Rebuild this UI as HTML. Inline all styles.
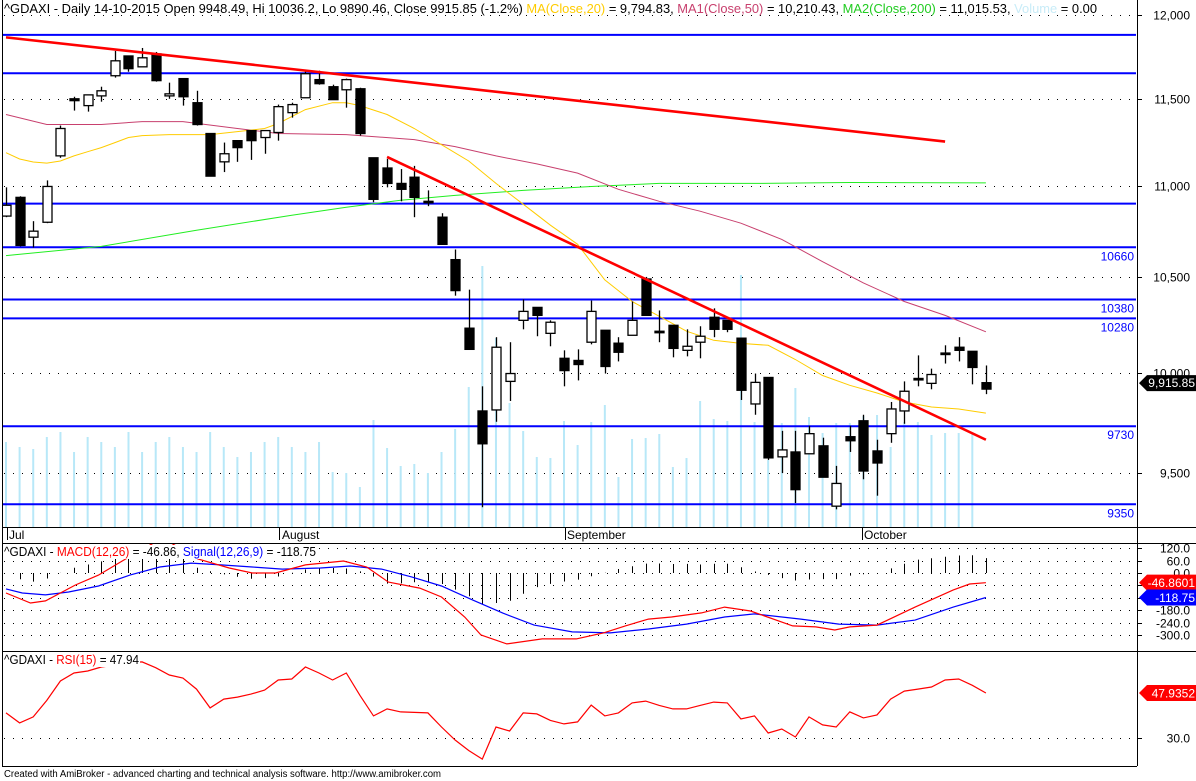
<!DOCTYPE html>
<html><head><meta charset="utf-8"><style>
html,body{margin:0;padding:0;background:#fff;}
svg{display:block;font-family:"Liberation Sans",Arial,sans-serif;}
</style></head><body>
<svg id="chart" width="1196" height="781" viewBox="0 0 1196 781" xmlns="http://www.w3.org/2000/svg">
<defs>
<clipPath id="cpPrice"><rect x="3" y="0" width="1133" height="527"/></clipPath>
<clipPath id="cpMacd"><rect x="3" y="543" width="1133" height="108"/></clipPath>
<clipPath id="cpRsi"><rect x="3" y="651" width="1133" height="115"/></clipPath>
</defs>
<rect x="0" y="0" width="1196" height="781" fill="#fff"/>
<g id="gPriceGrid"></g>
<g id="gVol" clip-path="url(#cpPrice)"></g>
<g id="gLevels" clip-path="url(#cpPrice)"></g>
<g id="gMA" clip-path="url(#cpPrice)"></g>
<g id="gCandles" clip-path="url(#cpPrice)"></g>
<g id="gTrend" clip-path="url(#cpPrice)"></g>
<g id="gMacd" clip-path="url(#cpMacd)"></g>
<g id="gRsi" clip-path="url(#cpRsi)"></g>
<g id="gAxes"></g>

<!-- frame lines -->
<line x1="2.5" y1="0" x2="2.5" y2="766" stroke="#000"/>
<line x1="1137.5" y1="0" x2="1137.5" y2="766" stroke="#000"/>
<line x1="2" y1="527.5" x2="1196" y2="527.5" stroke="#000"/>
<line x1="2" y1="543.5" x2="1196" y2="543.5" stroke="#000"/>
<line x1="2" y1="651.5" x2="1196" y2="651.5" stroke="#000"/>
<line x1="2" y1="766.5" x2="1137" y2="766.5" stroke="#000"/>

<!-- date axis -->
<g font-size="12" fill="#000">
<line x1="7.5" y1="528" x2="7.5" y2="540" stroke="#000"/><text x="9" y="539">Jul</text>
<line x1="279.5" y1="528" x2="279.5" y2="540" stroke="#000"/><text x="282" y="539">August</text>
<line x1="565.5" y1="528" x2="565.5" y2="540" stroke="#000"/><text x="567" y="539">September</text>
<line x1="862.5" y1="528" x2="862.5" y2="540" stroke="#000"/><text x="864" y="539">October</text>
</g>

<!-- headers -->
<rect x="3" y="1" width="1096" height="14" fill="#fff"/>
<text x="4" y="13" font-size="12.5" textLength="1093" lengthAdjust="spacingAndGlyphs"><tspan fill="#000">^GDAXI - Daily 14-10-2015 Open 9948.49, Hi 10036.2, Lo 9890.46, Close 9915.85 (-1.2%) </tspan><tspan fill="#ffcc00">MA(Close,20)</tspan><tspan fill="#000"> = 9,794.83, </tspan><tspan fill="#c8406e">MA1(Close,50)</tspan><tspan fill="#000"> = 10,210.43, </tspan><tspan fill="#22cc22">MA2(Close,200)</tspan><tspan fill="#000"> = 11,015.53, </tspan><tspan fill="#c8ecf8">Volume</tspan><tspan fill="#000"> = 0.00</tspan></text>
<rect x="3" y="545" width="315" height="14" fill="#fff"/>
<text x="4" y="556" font-size="12.5" textLength="312" lengthAdjust="spacingAndGlyphs"><tspan fill="#000">^GDAXI - </tspan><tspan fill="#ff0000">MACD(12,26)</tspan><tspan fill="#000"> = -46.86, </tspan><tspan fill="#0000ff">Signal(12,26,9)</tspan><tspan fill="#000"> = -118.75</tspan></text>
<rect x="3" y="653" width="137" height="14" fill="#fff"/>
<text x="4" y="664" font-size="12.5" textLength="135" lengthAdjust="spacingAndGlyphs"><tspan fill="#000">^GDAXI - </tspan><tspan fill="#ff0000">RSI(15)</tspan><tspan fill="#000"> = 47.94</tspan></text>

<text x="4" y="777" font-size="10" textLength="437" lengthAdjust="spacingAndGlyphs" fill="#000">Created with AmiBroker - advanced charting and technical analysis software. http://www.amibroker.com</text>
</svg>
<script>
// ---------- DATA ----------
const opens  = [10831,10935,10715,10797,11169,11499,11459,11516,11635,11753,11688,11765,11516,11618,11476,11297,11135,11256,11314,11274,11303,11418,11505,11612,11570,11552,11558,11158,11100,11013,11048,10913,10825,10593,10229,9806,9811,9955,10270,10338,10202,10073,10062,10156,10218,10151,10192,10489,10213,10244,10114,10156,10286,10270,10177,9841,9975,9579,9603,9594,9633,9341,9678,9757,9608,9693,9806,9970,9945,10100,10130,10109,9948.49];
const highs  = [10991,10941,10803,11030,11343,11511,11522,11570,11783,11753,11801,11777,11594,11618,11546,11297,11245,11256,11314,11314,11465,11476,11665,11665,11582,11618,11564,11158,11152,11094,11112,10974,10847,10648,10432,9930,10182,10156,10380,10338,10270,10114,10119,10374,10218,10182,10369,10500,10322,10244,10223,10239,10333,10270,10177,9995,9975,9707,9707,9732,9673,9535,9732,9787,9663,9851,9955,10088,10020,10140,10182,10109,10036.2];
const lows   = [10825,10665,10659,10792,11158,11430,11424,11482,11624,11659,11688,11600,11499,11459,11343,11054,11077,11135,11146,11181,11256,11389,11505,11582,11494,11447,11285,10908,10991,10913,10825,10886,10676,10400,10119,9336,9752,9856,10223,10187,10135,9930,9960,10145,9995,10057,10192,10296,10156,10078,10083,10073,10182,10208,9861,9787,9564,9500,9356,9594,9480,9326,9603,9470,9391,9648,9742,9930,9915,10046,10057,9940,9890.46];
const closes = [10891,10670,10748,10996,11326,11488,11522,11546,11724,11677,11742,11606,11528,11511,11349,11054,11181,11216,11256,11314,11453,11465,11647,11588,11494,11612,11297,10924,11013,10980,10935,10910,10676,10427,10119,9643,10130,9995,10317,10296,10260,10010,10041,10317,10031,10104,10270,10296,10208,10124,10135,10187,10223,10223,9910,9950,9574,9613,9420,9693,9480,9450,9658,9510,9549,9816,9905,9968,9990,10098,10114,10026,9915.85];
const volumes = [85,80,78,90,95,75,90,85,80,95,75,85,90,80,75,95,80,70,75,85,90,80,75,85,55,54,40,107,79,61,63,54,75,98,140,261,189,124,96,70,69,106,82,105,122,50,88,89,93,60,69,126,108,106,252,105,67,104,139,110,94,104,104,111,112,80,105,105,92,94,94,94,0];

const ma20Idx = [0,1,2,3,4,5,6,7,8,9,10,12,15,17,19,20,21,22,24,25,26,28,30,32,34,36,38,40,42,44,46,48,50,52,54,56,58,60,62,64,66,68,70,72];
const ma20Val = [11187,11151,11134,11128,11140,11169,11193,11216,11245,11274,11285,11291,11291,11308,11326,11355,11395,11436,11476,11476,11459,11407,11326,11233,11140,11013,10897,10781,10676,10484,10369,10291,10213,10166,10150,10140,10067,9985,9935,9896,9851,9826,9816,9795];
const ma50Idx = [0,3,7,10,13,17,20,25,30,33,36,39,42,45,48,51,54,57,60,63,66,69,72];
const ma50Val = [11407,11349,11349,11366,11366,11326,11297,11291,11262,11222,11169,11123,11071,10980,10913,10858,10792,10703,10582,10468,10369,10296,10210];
const ma200Idx = [0,7,14,21,25,29,33,38,43,48,55,62,72];
const ma200Val = [10615,10665,10753,10836,10880,10919,10946,10974,10996,11013,11013,11018,11016];

const levels = [11880,11650,10900,10660,10380,10280,9730,9350];
const levelLabels = ["","","","10660","10380","10280","9730","9350"];
const trend1 = {i0:0, p0:11865, i1:69, p1:11251};
const trend2 = {i0:28, p0:11163, i1:72, p1:9663};
const priceTicks = [12000,11500,11000,10500,10000,9500];
const priceTickLabels = ["12,000","11,500","11,000","10,500","10,000","9,500"];

const macdIdx = [0,1.8,2.9,5.1,6.8,8.8,11.5,14.1,16.4,18.1,19.8,22,24.8,26.5,28.1,30.4,32,33.7,34.9,36.8,39.4,41.9,43.9,45.5,47.2,48.9,51.1,52.8,54.7,57.8,59.5,60.9,62,64,66.8,69.6,70.8,72];
const macdVal = [-97,-145,-135,-58,-10,68,170,68,24,0,0,39,58,29,-44,-73,-116,-213,-300,-343,-319,-319,-290,-256,-223,-213,-193,-165,-184,-256,-261,-276,-261,-252,-165,-82,-53,-46.86];
const sigIdx = [0,1.2,2.9,4.6,6.8,9.1,11.3,13.6,15.8,18.1,20.3,23.1,25.3,27.6,29.8,32,34.3,36.5,38.8,41.6,44.4,47.2,50,52.8,55,58.4,61.2,64,66.8,69.6,72];
const sigVal = [-77,-97,-106,-92,-63,-10,29,48,39,29,19,24,34,19,-19,-63,-131,-194,-252,-285,-290,-271,-247,-213,-198,-223,-247,-252,-228,-165,-118.75];
const macdTicks = [120,60,0,-60,-120,-180,-240,-300];
const macdTickLabels = ["120.0","60.0","0.0","","","-180.0","-240.0","-300.0"];

const rsiVal = [40,36,38.4,45,52.7,55.9,56.7,58.3,59,60,60.3,58,55.1,53.9,49.5,42,45.5,46.3,47.5,49.1,53.1,53.5,58.3,55.9,53.1,55.9,47,38.8,41.6,40.4,40.2,40,34.4,29.2,25,21.6,34.4,32.8,40,39.6,37,35.6,36.4,43.1,38.8,40,44,44.7,43,41.6,41.6,43,44.3,44,37.6,38.8,32,33.6,30.4,38.4,35.2,34.4,40.4,38,39.2,45.5,48.7,49.5,50.3,53.1,53.5,51,47.94];
const rsiTicks = [30];

// ---------- SCALES ----------
const NS = "http://www.w3.org/2000/svg";
const xOf = i => 6 + i * 13.61;
const yP = p => 15.2 + 1960 * Math.log(12000 / p);
const yV = v => 527 - v;
const yM = v => 573 - v * 0.2067;
const yR = r => 738 - (r - 30) * 2.51;
function mk(tag, attrs, parent) {
  const e = document.createElementNS(NS, tag);
  for (const k in attrs) e.setAttribute(k, attrs[k]);
  parent.appendChild(e);
  return e;
}
function interp(ix, vals, i) {
  if (i <= ix[0]) return vals[0];
  for (let k = 1; k < ix.length; k++) {
    if (i <= ix[k]) { const t = (i - ix[k-1]) / (ix[k] - ix[k-1]); return vals[k-1] + t * (vals[k] - vals[k-1]); }
  }
  return vals[vals.length - 1];
}
const $ = id => document.getElementById(id);

// price grid
priceTicks.forEach((p, k) => {
  const y = Math.round(yP(p)) + 0.5;
  const g = mk("line", {x1: 4, y1: y, x2: 1136, y2: y, stroke: "#000", "stroke-dasharray": "1,8"}, $("gPriceGrid"));
  
  
  const t = mk("line", {x1: 1137, y1: y, x2: 1142, y2: y, stroke: "#000"}, $("gAxes"));
  
  
  const l = mk("text", {x: 1190, y: y + 4, "font-size": 12, "text-anchor": "end", fill: "#000"}, $("gAxes"));
  
  
  l.textContent = priceTickLabels[k];
});

// volume
volumes.forEach((v, i) => {
  if (v <= 0) return;
  const x = xOf(i);
  const r = mk("rect", {x: x - 1, y: yV(v), width: 2, height: v, fill: "#b8e8f8"}, $("gVol"));
  
  
});

// levels
levels.forEach((p, k) => {
  const y = yP(p);
  const l = mk("line", {x1: 3, y1: y, x2: 1136, y2: y, stroke: "#0000ff", "stroke-width": 2}, $("gLevels"));
  
  
  if (levelLabels[k]) {
    const t = mk("text", {x: 1134, y: y + 13, "font-size": 12, "text-anchor": "end", fill: "#0000ff"}, $("gAxes"));
    
    
    t.textContent = levelLabels[k];
  }
});

// moving averages
function maPath(ix, vals, color, name, w) {
  const d = ix.map((i, k) => (k ? "L" : "M") + xOf(i).toFixed(1) + "," + yP(vals[k]).toFixed(1)).join("");
  const p = mk("path", {d: d, fill: "none", stroke: color, "stroke-width": w}, $("gMA"));
  
  
}
maPath(ma200Idx, ma200Val, "#22ee22", "ma200-line", 1);
maPath(ma50Idx, ma50Val, "#c8406e", "ma50-line", 1);
maPath(ma20Idx, ma20Val, "#ffcc00", "ma20-line", 1);

// candles
opens.forEach((o, i) => {
  const x = Math.round(xOf(i));
  const c = closes[i];
  const yH = yP(highs[i]), yL = yP(lows[i]);
  const top = Math.min(yP(o), yP(c)), bot = Math.max(yP(o), yP(c));
  const w = mk("line", {x1: x + 0.5, y1: yH, x2: x + 0.5, y2: yL, stroke: "#000", "stroke-width": 1.3}, $("gCandles"));
  
  
  const b = mk("rect", {x: x - 4, y: top, width: 9, height: Math.max(bot - top, 1.5), fill: c < o ? "#000" : "#fff", stroke: "#000", "stroke-width": 1.3}, $("gCandles"));
  
  
});

// trendlines
[trend1, trend2].forEach(t => {
  const l = mk("line", {x1: xOf(t.i0), y1: yP(t.p0), x2: xOf(t.i1), y2: yP(t.p1), stroke: "#ff0000", "stroke-width": 2.6}, $("gTrend"));
  
  
});

// close marker
(function(){
  const y = yP(closes[closes.length - 1]) - 6;
  const g = mk("polygon", {points: `1139,${y} 1147,${y-8} 1196,${y-8} 1196,${y+8} 1147,${y+8}`, fill: "#000"}, $("gAxes"));
  
  
  const t = mk("text", {x: 1195, y: y + 4, "font-size": 12, "text-anchor": "end", fill: "#fff"}, $("gAxes"));
  
  
  t.textContent = "9,915.85";
})();

// MACD pane
macdTicks.forEach((v, k) => {
  const y = Math.round(yM(v)) + 0.5;
  const g = mk("line", {x1: 4, y1: y, x2: 1136, y2: y, stroke: "#000", "stroke-dasharray": "1,8"}, $("gMacd"));
  
  
  const tk = mk("line", {x1: 1137, y1: y, x2: 1142, y2: y, stroke: "#000"}, $("gAxes"));
  
  
  if (macdTickLabels[k]) {
    const t = mk("text", {x: 1190, y: y + 4, "font-size": 12, "text-anchor": "end", fill: "#000"}, $("gAxes"));
    
    
    t.textContent = macdTickLabels[k];
  }
});
for (let i = 1; i < opens.length; i++) {
  const h = interp(macdIdx, macdVal, i) - interp(sigIdx, sigVal, i);
  const x = Math.round(xOf(i)) + 0.5;
  const l = mk("line", {x1: x, y1: yM(0), x2: x, y2: yM(h), stroke: "#000", "stroke-width": 1}, $("gMacd"));
  
  
}
function linePath(ix, vals, yf, color, parent, name) {
  const d = ix.map((i, k) => (k ? "L" : "M") + xOf(i).toFixed(1) + "," + yf(vals[k]).toFixed(1)).join("");
  const p = mk("path", {d: d, fill: "none", stroke: color, "stroke-width": 1.2}, parent);
  
  
}
linePath(sigIdx, sigVal, yM, "#0000ff", $("gMacd"), "macd-signal-line");
linePath(macdIdx, macdVal, yM, "#ff0000", $("gMacd"), "macd-line");
function valBox(v, yf, color, text, name) {
  const y = yf(v);
  const p = mk("polygon", {points: `1139,${y} 1147,${y-8} 1196,${y-8} 1196,${y+8} 1147,${y+8}`, fill: color}, $("gAxes"));
  
  
  const t = mk("text", {x: 1195, y: y + 4.5, "font-size": 12, "text-anchor": "end", fill: "#fff"}, $("gAxes"));
  
  
  t.textContent = text;
}
valBox(macdVal[macdVal.length - 1], yM, "#ff0000", "-46.8601", "macd-value");
valBox(sigVal[sigVal.length - 1], yM, "#0000ff", "-118.75", "signal-value");

// RSI pane
rsiTicks.forEach(r => {
  const y = Math.round(yR(r)) + 0.5;
  const g = mk("line", {x1: 4, y1: y, x2: 1136, y2: y, stroke: "#000", "stroke-dasharray": "1,8"}, $("gRsi"));
  
  
  const tk = mk("line", {x1: 1137, y1: y, x2: 1142, y2: y, stroke: "#000"}, $("gAxes"));
  
  
  const t = mk("text", {x: 1190, y: y + 4, "font-size": 12, "text-anchor": "end", fill: "#000"}, $("gAxes"));
  
  
  t.textContent = r.toFixed(1);
});
linePath(rsiVal.map((_, i) => i), rsiVal, yR, "#ff0000", $("gRsi"), "rsi-line");
valBox(rsiVal[rsiVal.length - 1], yR, "#ff0000", "47.9352", "rsi-value");

// keep headers on top of pane content
["gMacd","gRsi"].forEach(id => $("chart").insertBefore($(id), $("gAxes")));
</script>
</body></html>
